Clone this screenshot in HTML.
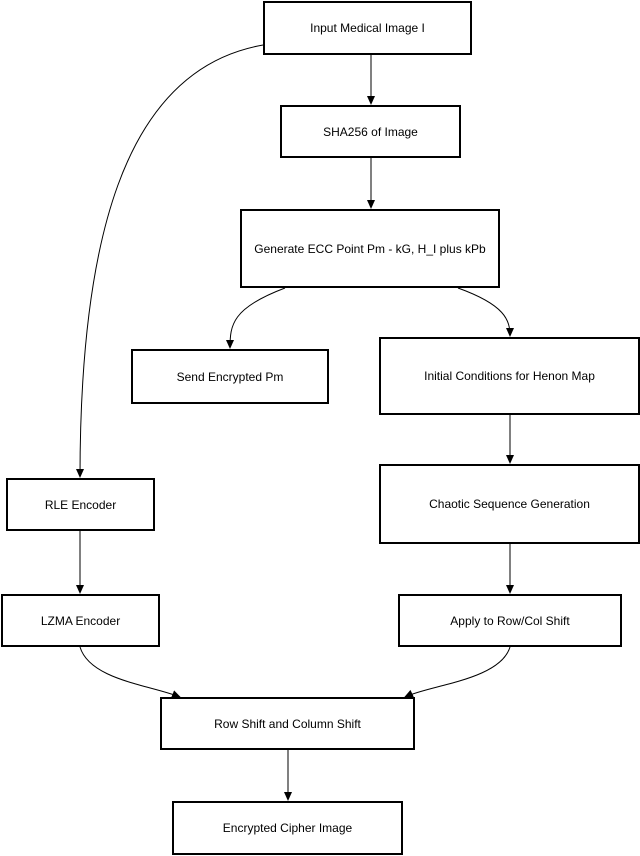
<!DOCTYPE html>
<html><head><meta charset="utf-8"><style>
html,body{margin:0;padding:0;background:#fff;}
body{width:640px;height:856px;position:relative;overflow:hidden;font-family:"Liberation Sans",Arial,sans-serif;}
.b{position:absolute;box-sizing:border-box;border:2px solid #000;background:#fff;display:flex;align-items:center;justify-content:center;font-size:12px;color:#000;text-align:center;}
svg{position:absolute;left:0;top:0;}
</style></head><body>
<svg width="640" height="856" viewBox="0 0 640 856">
<defs><marker id="a" markerWidth="10" markerHeight="10" refX="8" refY="5" orient="auto" markerUnits="userSpaceOnUse"><path d="M0,1 L9,5 L0,9 z" fill="#000"/></marker></defs>
<g fill="none" stroke="#000" stroke-width="1" marker-end="url(#a)">
<path d="M371,55 L371,104"/>
<path d="M263,45 C120,70 80,250 80,477"/>
<path d="M371,158 L371,208"/>
<path d="M285,288 C232,308 230,325 230,348"/>
<path d="M458,288 C505,305 510,320 510,336"/>
<path d="M510,415 L510,463"/>
<path d="M80,531 L80,593"/>
<path d="M510,544 L510,593"/>
<path d="M80,647 C90,680 150,685 180,697"/>
<path d="M510,647 C500,680 430,685 405,697"/>
<path d="M288,750 L288,800"/>
</g>
</svg>
<div class="b" style="left:263px;top:1px;width:209px;height:54px">Input Medical Image I</div>
<div class="b" style="left:280px;top:105px;width:181px;height:53px">SHA256 of Image</div>
<div class="b" style="left:240px;top:209px;width:260px;height:79px">Generate ECC Point Pm - kG, H_I plus kPb</div>
<div class="b" style="left:131px;top:349px;width:198px;height:55px">Send Encrypted Pm</div>
<div class="b" style="left:379px;top:337px;width:261px;height:78px">Initial Conditions for Henon Map</div>
<div class="b" style="left:6px;top:478px;width:149px;height:53px">RLE Encoder</div>
<div class="b" style="left:379px;top:464px;width:261px;height:80px">Chaotic Sequence Generation</div>
<div class="b" style="left:1px;top:594px;width:159px;height:53px">LZMA Encoder</div>
<div class="b" style="left:398px;top:594px;width:224px;height:53px">Apply to Row/Col Shift</div>
<div class="b" style="left:160px;top:697px;width:255px;height:53px">Row Shift and Column Shift</div>
<div class="b" style="left:172px;top:801px;width:231px;height:54px">Encrypted Cipher Image</div>
</body></html>
